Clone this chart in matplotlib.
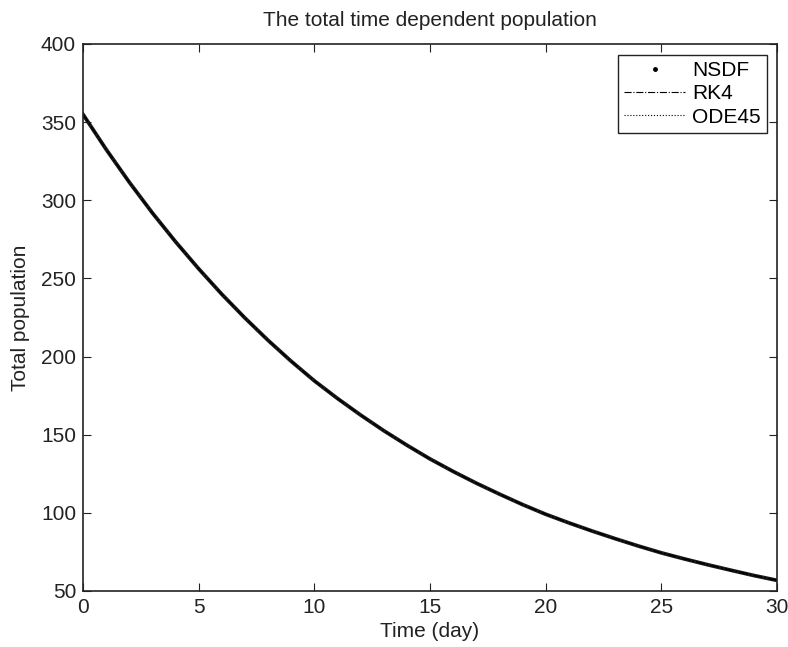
import numpy as np
import matplotlib
matplotlib.use('Agg')
import matplotlib.pyplot as plt
from matplotlib.lines import Line2D

plt.rcParams['font.family'] = ['Liberation Sans', 'DejaVu Sans']

#Data (total population per day)
days = list(range(0, 31))
nsdf = [355.0, 332.6, 311.6, 291.9, 273.5, 256.2, 239.9, 224.7, 210.4, 197.0,
        184.5, 173.2, 162.6, 152.6, 143.3, 134.5, 126.5, 119.0, 112.0, 105.3,
        99.1, 93.6, 88.4, 83.5, 78.8, 74.4, 70.5, 66.8, 63.3, 59.9, 56.8]
rk4   = list(nsdf)
ode45 = list(nsdf)

xticks = [0, 5, 10, 15, 20, 25, 30]
yticks = [50, 100, 150, 200, 250, 300, 350, 400]

fig = plt.figure(figsize=(7.88, 6.47), dpi=100)
ax = fig.add_axes([0.1053, 0.0866, 0.8807, 0.8454])

#Plot
ax.plot(days, nsdf, '-', lw=2.7, color='#1a1a1a')
ax.plot(days, rk4, 'k-.', lw=1.0)
ax.plot(days, ode45, 'k:', lw=1.0)

ax.set_xlim(0, 30)
ax.set_ylim(50, 400)
ax.set_xticks(xticks)
ax.set_yticks(yticks)
ax.tick_params(direction='in', top=True, right=True, length=6, width=0.8,
               labelsize=15, colors='#222222', pad=5)
for s in ax.spines.values():
    s.set_linewidth(1.2)
    s.set_color('#222222')

ax.set_title('The total time dependent population', fontsize=15, pad=13, color='#222222')
ax.set_xlabel('Time (day)', fontsize=15, labelpad=4, color='#222222')
ax.set_ylabel('Total population', fontsize=15, labelpad=8, color='#222222')

handles = [Line2D([], [], color='k', marker='.', ls='none', ms=5),
           Line2D([], [], color='k', ls='-.', lw=0.8),
           Line2D([], [], color='k', ls=':', lw=0.8)]
leg = ax.legend(handles, ['NSDF', 'RK4', 'ODE45'], loc='upper right',
                bbox_to_anchor=(0.9856, 0.98), borderaxespad=0, fontsize=15,
                fancybox=False, framealpha=1, edgecolor='#222222',
                handlelength=2.9, handletextpad=0.35, labelspacing=0.2, borderpad=0.3)
leg.get_frame().set_linewidth(1.0)

plt.savefig('out.png', dpi=100)
